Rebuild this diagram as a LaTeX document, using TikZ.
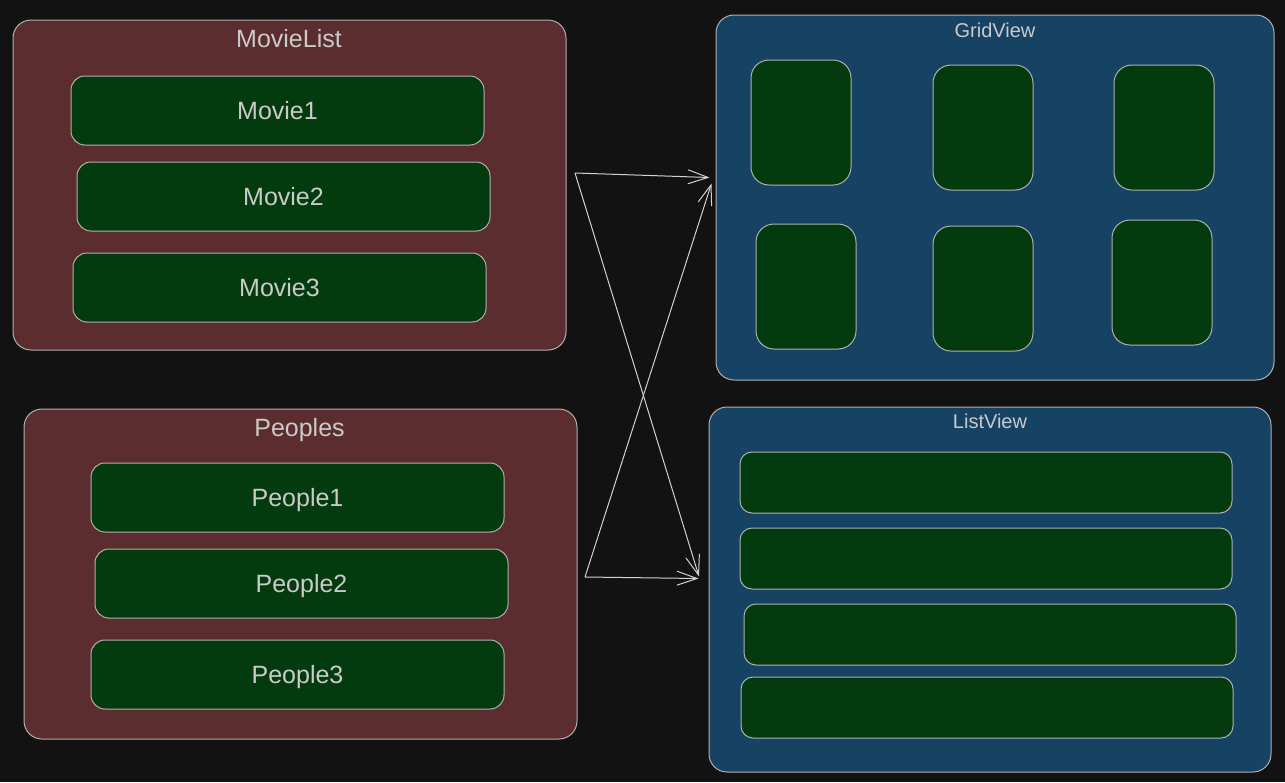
\documentclass[tikz,border=0pt]{standalone}
\usepackage{fontspec}
\setmainfont{Liberation Sans}
\usepackage{xcolor}
\usetikzlibrary{arrows.meta}

\definecolor{bgc}{HTML}{121212}
\definecolor{redc}{HTML}{5B2D2F}
\definecolor{bluec}{HTML}{164264}
\definecolor{greenc}{HTML}{033B0F}
\definecolor{edge}{HTML}{B0B0B0}
\definecolor{txt}{HTML}{CACACA}
\definecolor{wire}{HTML}{D2D2D2}

\begin{document}
\begin{tikzpicture}[
      x=1pt, y=-1pt, >={Straight Barb[length=20pt,width=14pt]},
      cont/.style={draw=edge,line width=1pt,rounded corners=18pt,inner sep=0pt},
      redbox/.style={cont,fill=redc,minimum width=553pt,minimum height=330pt},
      bluebox/.style={cont,fill=bluec},
      item/.style={draw=edge,line width=1pt,fill=greenc,rounded corners=14pt,inner sep=0pt,
        minimum width=413pt,minimum height=69pt,text=txt,
        font=\fontsize{25}{30}\selectfont,text height=18pt,text depth=0pt},
      card/.style={item,minimum width=100pt,minimum height=125pt,rounded corners=18pt},
      row/.style={item,minimum width=492pt,minimum height=61pt,rounded corners=12pt},
      bigtitle/.style={text=txt,inner sep=0pt,font=\fontsize{25}{30}\selectfont,
        text height=18pt,text depth=0pt},
      smalltitle/.style={text=txt,inner sep=0pt,font=\fontsize{20}{24}\selectfont,
        text height=14.3pt,text depth=0pt},
      wireline/.style={draw=wire,line width=1pt}
  ]
      \fill[bgc] (0,0) rectangle (1285,782);
      \useasboundingbox (0,0) rectangle (1285,782);

      % containers
      \node[redbox] (movies) at (289.5,185) {};
      \node[redbox] (peoples) at (300.5,574) {};
      \node[bluebox,minimum width=558pt,minimum height=365pt] (grid) at (995,197.5) {};
      \node[bluebox,minimum width=562pt,minimum height=365pt] (list) at (990,589.5) {};

      \node[bigtitle] (moviesT) at (289,38) {MovieList};
      \node[bigtitle] (peoplesT) at (299.5,427) {Peoples};
      \node[smalltitle] (gridT) at (995,30) {GridView};
      \node[smalltitle] (listT) at (990,421.7) {ListView};

      % items
      \node[item] (movie1) at (277.5,110.5) {Movie1};
      \node[item] (movie2) at (283.5,196.5) {Movie2};
      \node[item] (movie3) at (279.5,287.5) {Movie3};

      \node[item] (people1) at (297.5,497.5) {People1};
      \node[item] (people2) at (301.5,583.5) {People2};
      \node[item] (people3) at (297.5,674.5) {People3};

      \node[card] (card1) at (801,122.5) {};
      \node[card] (card2) at (983,127.5) {};
      \node[card] (card3) at (1164,127.5) {};
      \node[card] (card4) at (806,286.5) {};
      \node[card] (card5) at (983,288.5) {};
      \node[card] (card6) at (1162,282.5) {};

      \node[row] (row1) at (986,482.5) {};
      \node[row] (row2) at (986,558.5) {};
      \node[row] (row3) at (990,634.5) {};
      \node[row] (row4) at (987,707.5) {};

      % connections
      \coordinate (movOut) at (575,173);
      \coordinate (pplOut) at (585,577);
      \coordinate (gridIn1) at (709.5,177.5);
      \coordinate (gridIn2) at (711.5,183.5);
      \coordinate (listIn1) at (699,576.5);
      \coordinate (listIn2) at (698.5,578.5);

      \draw[wireline,->] (movOut) -- (gridIn1);
      \draw[wireline,->] (movOut) -- (listIn1);
      \draw[wireline,->] (pplOut) -- (listIn2);
      \draw[wireline,->] (pplOut) -- (gridIn2);
  \end{tikzpicture}
\end{document}
